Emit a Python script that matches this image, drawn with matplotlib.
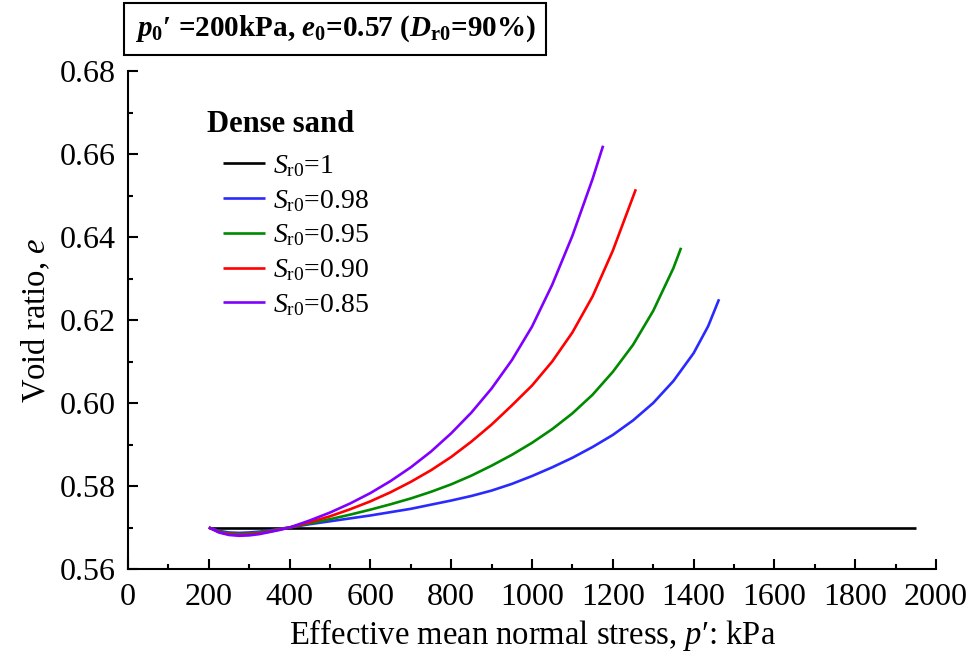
import matplotlib
matplotlib.use("Agg")
import matplotlib.pyplot as plt
from matplotlib.ticker import MultipleLocator, FormatStrFormatter

plt.rcParams['font.family'] = ['Liberation Serif', 'DejaVu Serif']
plt.rcParams['mathtext.fontset'] = 'custom'
plt.rcParams['mathtext.rm'] = 'Liberation Serif'
plt.rcParams['mathtext.it'] = 'Liberation Serif:italic'
plt.rcParams['mathtext.bf'] = 'Liberation Serif:bold'
plt.rcParams['mathtext.bfit'] = 'Liberation Serif:bold:italic'

# ---- data ----
p_sr100 = [200, 1950]
e_sr100 = [0.570, 0.570]

p_sr098 = [200, 225, 250, 275, 300, 325, 350, 375, 400, 450, 500, 550, 600, 650, 700, 750, 800, 850, 900,
           950, 1000, 1050, 1100, 1150, 1200, 1250, 1300, 1350, 1400, 1436, 1463]
e_sr098 = [0.5700, 0.5692, 0.5688, 0.5687, 0.5688, 0.5690, 0.5693, 0.5697, 0.5700, 0.5708, 0.5715, 0.5722,
           0.5729, 0.5737, 0.5745, 0.5755, 0.5765, 0.5776, 0.5789, 0.5805, 0.5824, 0.5845, 0.5868, 0.5894,
           0.5923, 0.5958, 0.6000, 0.6053, 0.6120, 0.6185, 0.6250]

p_sr095 = [200, 225, 250, 275, 300, 325, 350, 375, 400, 450, 500, 550, 600, 650, 700, 750, 800, 850, 900,
           950, 1000, 1050, 1100, 1150, 1200, 1250, 1300, 1350, 1369]
e_sr095 = [0.5700, 0.5690, 0.5686, 0.5684, 0.5685, 0.5688, 0.5691, 0.5696, 0.5700, 0.5710, 0.5720, 0.5731,
           0.5743, 0.5756, 0.5770, 0.5786, 0.5804, 0.5825, 0.5849, 0.5875, 0.5904, 0.5937, 0.5975, 0.6020,
           0.6075, 0.6140, 0.6222, 0.6325, 0.6374]

p_sr090 = [200, 225, 250, 275, 300, 325, 350, 375, 400, 450, 500, 550, 600, 650, 700, 750, 800, 850, 900,
           950, 1000, 1050, 1100, 1150, 1200, 1257]
e_sr090 = [0.5700, 0.5689, 0.5684, 0.5682, 0.5683, 0.5686, 0.5690, 0.5695, 0.5700, 0.5713, 0.5727, 0.5744,
           0.5763, 0.5785, 0.5810, 0.5838, 0.5870, 0.5907, 0.5948, 0.5994, 0.6042, 0.6100, 0.6170, 0.6257,
           0.6367, 0.6515]

p_sr085 = [200, 225, 250, 275, 300, 325, 350, 375, 400, 450, 500, 550, 600, 650, 700, 750, 800, 850, 900,
           950, 1000, 1050, 1100, 1150, 1176]
e_sr085 = [0.5700, 0.5688, 0.5682, 0.5680, 0.5681, 0.5684, 0.5689, 0.5694, 0.5700, 0.5717, 0.5736, 0.5758,
           0.5783, 0.5812, 0.5845, 0.5883, 0.5927, 0.5977, 0.6035, 0.6103, 0.6184, 0.6285, 0.6403, 0.6540,
           0.6620]

labels = ["1", "0.98", "0.95", "0.90", "0.85"]
colors = ["black", "#2a2aff", "#008a00", "#ff0000", "#8000ff"]
xs = [p_sr100, p_sr098, p_sr095, p_sr090, p_sr085]
ys = [e_sr100, e_sr098, e_sr095, e_sr090, e_sr085]

fig = plt.figure(figsize=(9.74, 6.66), dpi=100)
ax = fig.add_axes([128/974, 1-569/666, (936-128)/974, (569-71)/666])

for p, e, lab, c in zip(xs, ys, labels, colors):
    ax.plot(p, e, color=c, lw=1.9, label=r"$S_{\mathrm{r0}}$=" + lab, solid_capstyle='butt')

ax.set_xlim(0, 2000)
ax.set_ylim(0.56, 0.68)
ax.xaxis.set_major_locator(MultipleLocator(200))
ax.xaxis.set_minor_locator(MultipleLocator(100))
ax.yaxis.set_major_locator(MultipleLocator(0.02))
ax.yaxis.set_minor_locator(MultipleLocator(0.01))
ax.yaxis.set_major_formatter(FormatStrFormatter('%.2f'))
for s in ['top', 'right']:
    ax.spines[s].set_visible(False)
for s in ['left', 'bottom']:
    ax.spines[s].set_linewidth(1.5)
ax.tick_params(which='major', direction='in', length=7, width=1.5, labelsize=23)
ax.tick_params(axis='x', which='major', pad=10)
ax.tick_params(axis='y', which='major', pad=9)
ax.tick_params(which='minor', direction='in', length=3.5, width=1.5)

ax.set_xlabel("Effective mean normal stress, $p$\u2032: kPa", fontsize=23.5, labelpad=4)
ax.set_ylabel("Void ratio, $e$", fontsize=23.5, labelpad=5)

leg = ax.legend(loc='upper left', bbox_to_anchor=(223/974, 1-153/666), bbox_transform=fig.transFigure,
                frameon=False, fontsize=20, handlelength=1.5, handletextpad=0.3,
                labelspacing=0.32, borderpad=0.0, borderaxespad=0.0)
fig.text(207/974, 1-125/666, "Dense sand", ha='left', va='center', fontsize=22, fontweight='bold')

fig.text(335/974, 1-29/666,
         r"$\mathbfit{p}_{\mathbf{0}}$" + "\u2032 =200kPa, " + r"$\mathbfit{e}_{\mathbf{0}}$" + "=0.57 (" +
         r"$\mathbfit{D}_{\mathbf{r0}}$" + "=90%)",
         ha='center', va='center', fontsize=21, fontweight='bold',
         bbox=dict(boxstyle='square,pad=0.35', fc='white', ec='black', lw=1.5))

fig.savefig("out.png", dpi=100)
